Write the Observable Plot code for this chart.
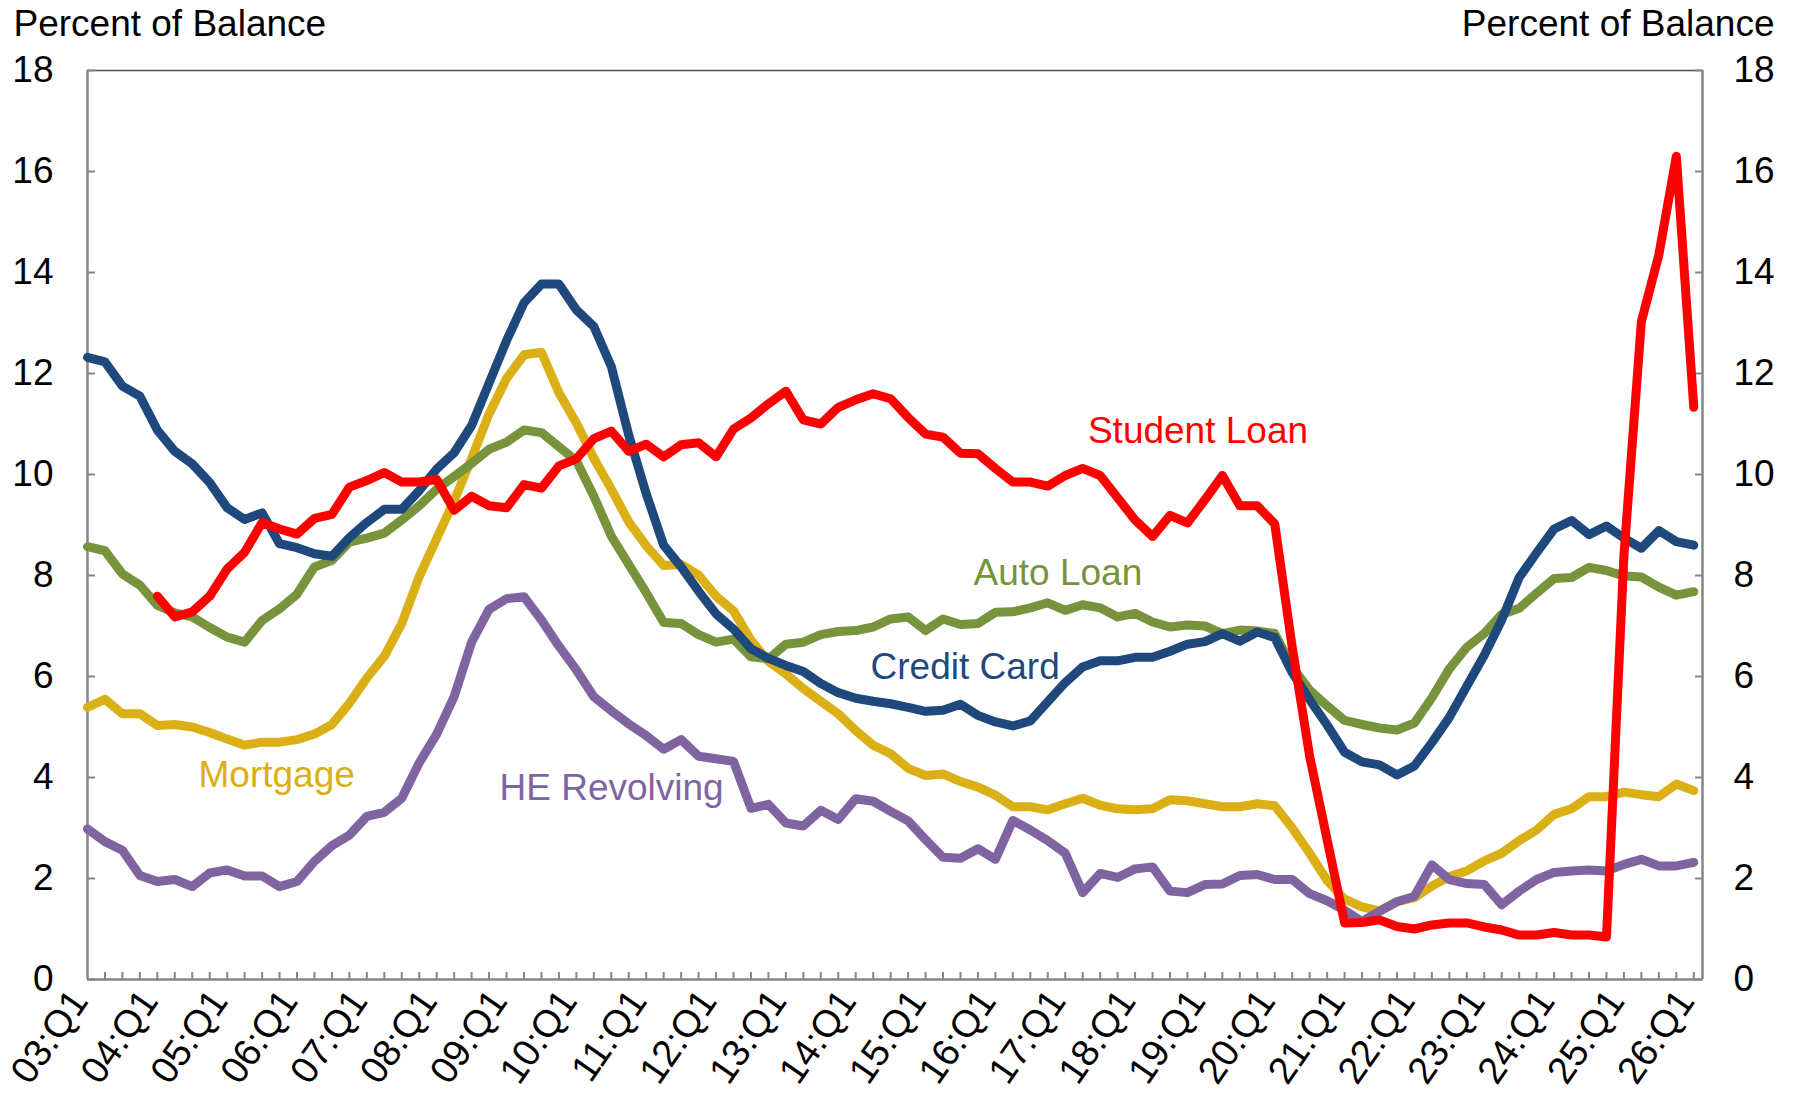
<!DOCTYPE html>
<html>
<head>
<meta charset="utf-8">
<script src="https://cdn.jsdelivr.net/npm/d3@7"></script>
<script src="https://cdn.jsdelivr.net/npm/@observablehq/plot@0.6"></script>
<style>
  html, body { margin: 0; padding: 0; background: #ffffff; }
  #chart { width: 1799px; height: 1100px; }
</style>
</head>
<body>
<div id="chart"></div>
<script>
// ---- Data: quarterly, 03:Q1 (index 0) .. 26:Q1 (index 92) ----
const tickLabels = ["03:Q1","04:Q1","05:Q1","06:Q1","07:Q1","08:Q1","09:Q1","10:Q1","11:Q1","12:Q1","13:Q1","14:Q1",
                    "15:Q1","16:Q1","17:Q1","18:Q1","19:Q1","20:Q1","21:Q1","22:Q1","23:Q1","24:Q1","25:Q1","26:Q1"];

const creditCard = [12.32,12.23,11.75,11.55,10.88,10.46,10.21,9.84,9.34,9.11,9.24,8.63,8.55,8.43,8.38,8.75,
  9.05,9.31,9.31,9.68,10.11,10.43,10.97,11.81,12.65,13.40,13.77,13.77,13.26,12.93,12.14,10.78,
  9.62,8.60,8.17,7.69,7.24,6.94,6.55,6.36,6.22,6.10,5.86,5.68,5.57,5.51,5.46,5.39,
  5.31,5.33,5.45,5.23,5.10,5.02,5.12,5.50,5.88,6.19,6.31,6.31,6.38,6.38,6.50,6.64,
  6.69,6.85,6.70,6.88,6.77,6.08,5.54,5.04,4.50,4.31,4.25,4.05,4.23,4.69,5.19,5.81,
  6.42,7.12,7.96,8.45,8.92,9.09,8.81,8.98,8.74,8.54,8.89,8.67,8.60];

const studentLoan = [null,null,null,null,7.59,7.18,7.28,7.59,8.13,8.46,9.05,8.92,8.82,9.13,9.21,9.75,
  9.88,10.04,9.85,9.85,9.90,9.29,9.57,9.38,9.34,9.80,9.73,10.17,10.31,10.71,10.86,10.46,
  10.60,10.35,10.59,10.63,10.35,10.90,11.12,11.40,11.65,11.08,11.00,11.33,11.48,11.60,11.50,11.13,
  10.80,10.74,10.42,10.41,10.12,9.85,9.85,9.77,9.98,10.12,9.98,9.54,9.10,8.77,9.19,9.04,
  9.50,9.98,9.38,9.38,9.02,6.58,4.42,2.77,1.12,1.13,1.18,1.05,1.00,1.08,1.12,1.12,
  1.04,0.98,0.88,0.88,0.93,0.88,0.88,0.84,8.40,13.03,14.35,16.30,11.33];

const autoLoan = [8.57,8.49,8.03,7.81,7.41,7.26,7.18,6.97,6.78,6.68,7.11,7.34,7.63,8.17,8.30,8.66,
  8.74,8.84,9.10,9.38,9.71,9.96,10.22,10.50,10.64,10.88,10.83,10.55,10.27,9.57,8.78,8.22,
  7.66,7.07,7.05,6.83,6.68,6.74,6.39,6.35,6.64,6.68,6.83,6.89,6.91,6.98,7.14,7.18,
  6.91,7.14,7.03,7.05,7.27,7.28,7.36,7.46,7.31,7.42,7.36,7.18,7.25,7.08,6.98,7.02,
  7.00,6.85,6.92,6.90,6.85,6.19,5.73,5.42,5.13,5.05,4.98,4.94,5.08,5.58,6.15,6.58,
  6.85,7.23,7.35,7.65,7.94,7.96,8.16,8.10,7.99,7.97,7.77,7.61,7.68];

const mortgage = [5.39,5.55,5.26,5.26,5.03,5.05,5.00,4.89,4.76,4.64,4.70,4.70,4.75,4.86,5.05,5.47,
  5.97,6.40,7.05,7.98,8.73,9.48,10.32,11.20,11.90,12.37,12.42,11.62,11.02,10.32,9.71,9.06,
  8.59,8.20,8.22,8.01,7.59,7.30,6.72,6.30,6.05,5.76,5.51,5.26,4.93,4.64,4.47,4.18,
  4.04,4.07,3.92,3.81,3.65,3.42,3.42,3.36,3.48,3.59,3.45,3.38,3.36,3.38,3.56,3.54,
  3.48,3.42,3.42,3.48,3.44,3.00,2.50,1.96,1.59,1.44,1.36,1.54,1.62,1.85,2.04,2.15,
  2.35,2.50,2.75,2.96,3.27,3.38,3.62,3.62,3.71,3.66,3.62,3.87,3.74];

const heRevolving = [2.98,2.73,2.56,2.06,1.94,1.98,1.84,2.11,2.17,2.05,2.05,1.84,1.94,2.34,2.65,2.86,
  3.23,3.31,3.59,4.29,4.86,5.60,6.68,7.33,7.54,7.58,7.12,6.60,6.13,5.60,5.32,5.06,
  4.83,4.56,4.75,4.42,4.37,4.32,3.39,3.47,3.10,3.04,3.35,3.17,3.58,3.53,3.33,3.14,
  2.77,2.42,2.40,2.59,2.38,3.15,2.96,2.75,2.50,1.72,2.10,2.02,2.19,2.23,1.75,1.72,
  1.88,1.89,2.06,2.08,1.98,1.98,1.70,1.56,1.37,1.15,1.35,1.54,1.65,2.27,1.98,1.90,
  1.88,1.48,1.75,1.98,2.12,2.15,2.17,2.15,2.28,2.38,2.25,2.25,2.32];

const seriesNames  = ["Mortgage", "HE Revolving", "Auto Loan", "Credit Card", "Student Loan"];
const seriesValues = [mortgage, heRevolving, autoLoan, creditCard, studentLoan];
const seriesColors = ["#DAB016", "#8064A2", "#77933C", "#1F497D", "#FF0000"];

// in-chart series labels (anchor: quarter index, value) — annotation placement
const labelNames = ["Student Loan", "Auto Loan", "Credit Card", "Mortgage", "HE Revolving"];
const labelAtIndex = [57.3, 50.75, 44.85, 6.36, 23.6];
const labelAtValue = [10.85, 8.05, 6.18, 4.05, 3.78];

const yTicks = d3.range(0, 19, 2);
const minorTicks = d3.range(1, 93);

// ---- Build tables ----
const colorOf = Object.fromEntries(seriesNames.map((n, k) => [n, seriesColors[k]]));
const tables = seriesNames.map((name, k) =>
  seriesValues[k].map((v, i) => ({series: name, i, v})).filter(d => d.v != null));
const labelRows = labelNames.map((name, k) => ({name, i: labelAtIndex[k], v: labelAtValue[k], color: colorOf[name]}));
const xLabelRows = tickLabels.map((t, k) => ({i: 4 * k, t}));

const axisGray = "#868686";
const FONT = "'Liberation Sans', Arial, Helvetica, sans-serif";
const FS = 37;

const chart = Plot.plot({
  width: 1799,
  height: 1100,
  marginLeft: 87,
  marginRight: 97,
  marginTop: 70,
  marginBottom: 121,
  style: {fontFamily: FONT, fontSize: FS + "px", background: "#ffffff", color: "#000000", overflow: "visible"},
  x: {domain: [0, 92.5], axis: null},
  y: {domain: [0, 18], axis: null},
  marks: [
    // frame
    Plot.ruleY([18], {stroke: "#505050", strokeWidth: 1.5}),
    Plot.ruleX([0], {stroke: axisGray, strokeWidth: 2.5}),
    Plot.ruleX([92.5], {stroke: axisGray, strokeWidth: 2.5}),
    // quarter ticks (inward)
    Plot.axisX(minorTicks, {anchor: "bottom", tickSize: -7, tickFormat: () => "", label: null, stroke: axisGray, strokeWidth: 2}),
    // y axes both sides
    Plot.axisY(yTicks, {anchor: "left", tickSize: -8, tickPadding: 42, tickFormat: d => String(d), label: null,
      stroke: axisGray, strokeWidth: 2, fill: "#000", fontSize: FS}),
    Plot.axisY(yTicks, {anchor: "right", tickSize: -8, tickPadding: 39, tickFormat: d => String(d), label: null,
      stroke: axisGray, strokeWidth: 2, fill: "#000", fontSize: FS}),
    Plot.ruleY([0], {stroke: axisGray, strokeWidth: 2.5}),
    // year labels
    Plot.text(xLabelRows, {x: "i", frameAnchor: "bottom", text: "t", rotate: -55, textAnchor: "end",
      dx: 2, dy: 22, fontSize: 38, fill: "#000"}),
    // series lines
    ...tables.map((rows, k) => Plot.line(rows, {x: "i", y: "v", stroke: seriesColors[k], strokeWidth: 9,
      strokeLinejoin: "round", strokeLinecap: "round"})),
    // series labels
    Plot.text(labelRows, {x: "i", y: "v", text: "name", fill: "color", textAnchor: "start", fontSize: FS}),
    // axis titles
    Plot.text(["Percent of Balance"], {frameAnchor: "top-left", textAnchor: "start", lineAnchor: "bottom",
      dx: -74, dy: -35, fontSize: FS, fill: "#000"}),
    Plot.text(["Percent of Balance"], {frameAnchor: "top-right", textAnchor: "end", lineAnchor: "bottom",
      dx: 72, dy: -35, fontSize: FS, fill: "#000"})
  ]
});

document.getElementById("chart").appendChild(chart);
</script>
</body>
</html>
